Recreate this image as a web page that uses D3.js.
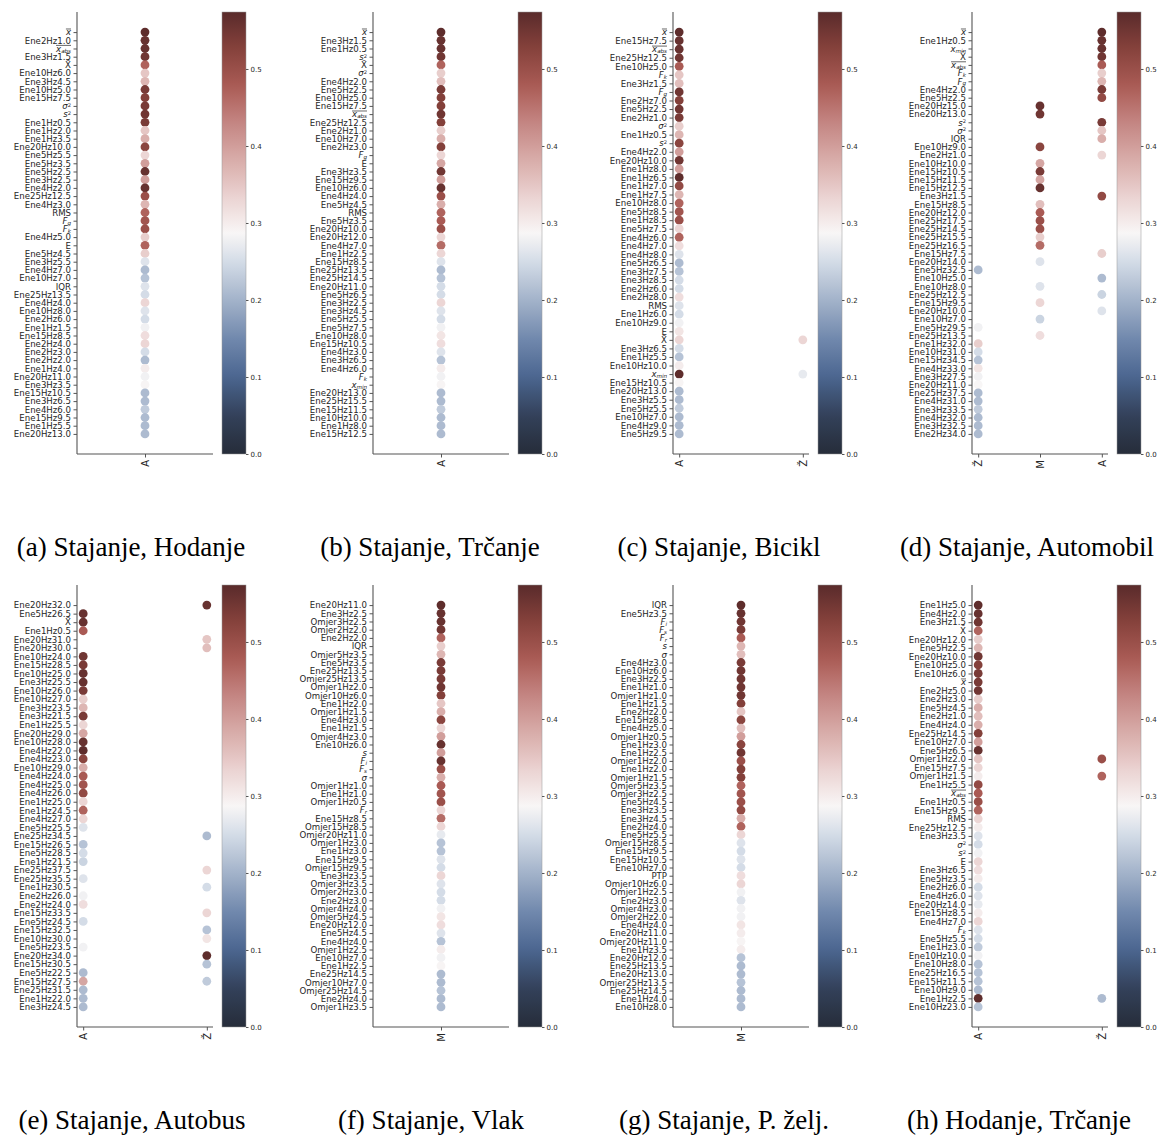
<!DOCTYPE html>
<html>
<head>
<meta charset="utf-8">
<title>Stajanje - znacajke</title>
<script src="https://cdn.jsdelivr.net/npm/d3@7"></script>
<style>
  body { margin: 0; background: #fff; }
  #chart text { font-family: "DejaVu Sans", sans-serif; }
  #chart .caption { font-family: "Liberation Serif", "DejaVu Serif", serif; }
</style>
</head>
<body>
<svg id="chart" width="1169" height="1137"></svg>
<script>
// ---- data ----
// (a) Stajanje, Hodanje
var labA = ["x̄","Ene2Hz1.0","x̄abs","Ene3Hz1.5","X̃","Ene10Hz6.0","Ene3Hz4.5","Ene10Hz5.0","Ene15Hz7.5","σ²","s²","Ene1Hz0.5","Ene1Hz2.0","Ene1Hz3.5","Ene20Hz10.0","Ene5Hz5.5","Ene5Hz3.5","Ene5Hz2.5","Ene3Hz2.5","Ene4Hz2.0","Ene25Hz12.5","Ene4Hz3.0","RMS","Fg","Fk","Ene4Hz5.0","E","Ene5Hz4.5","Ene3Hz5.5","Ene4Hz7.0","Ene10Hz7.0","IQR","Ene25Hz13.5","Ene4Hz4.0","Ene10Hz8.0","Ene2Hz6.0","Ene1Hz1.5","Ene15Hz8.5","Ene2Hz4.0","Ene2Hz3.0","Ene2Hz2.0","Ene1Hz4.0","Ene20Hz11.0","Ene3Hz3.5","Ene15Hz10.5","Ene3Hz6.5","Ene4Hz6.0","Ene15Hz9.5","Ene1Hz5.5","Ene20Hz13.0"];
var valA = [0.57,0.56,0.56,0.55,0.47,0.35,0.37,0.54,0.53,0.54,0.55,0.54,0.35,0.38,0.52,0.33,0.40,0.56,0.40,0.56,0.50,0.37,0.47,0.49,0.50,0.34,0.47,0.34,0.26,0.21,0.22,0.26,0.25,0.33,0.26,0.25,0.28,0.32,0.33,0.25,0.21,0.30,0.28,0.29,0.21,0.21,0.23,0.21,0.21,0.21];

// (b) Stajanje, Trčanje
var labB = ["x̄","Ene3Hz1.5","Ene1Hz0.5","s²","X̃","σ²","Ene4Hz2.0","Ene5Hz2.5","Ene10Hz5.0","Ene15Hz7.5","x̄abs","Ene25Hz12.5","Ene2Hz1.0","Ene10Hz7.0","Ene2Hz3.0","Fg","E","Ene3Hz3.5","Ene15Hz9.5","Ene10Hz6.0","Ene4Hz4.0","Ene5Hz4.5","RMS","Ene5Hz3.5","Ene20Hz10.0","Ene20Hz12.0","Ene4Hz7.0","Ene1Hz2.5","Ene15Hz8.5","Ene25Hz13.5","Ene25Hz14.5","Ene20Hz11.0","Ene5Hz6.5","Ene3Hz2.5","Ene3Hz4.5","Ene5Hz5.5","Ene5Hz7.5","Ene10Hz8.0","Ene15Hz10.5","Ene4Hz3.0","Ene3Hz6.5","Ene4Hz6.0","Fk","xmin","Ene20Hz13.0","Ene25Hz15.5","Ene15Hz11.5","Ene10Hz10.0","Ene1Hz8.0","Ene15Hz12.5"];
var valB = [0.57,0.56,0.56,0.55,0.47,0.34,0.36,0.54,0.53,0.53,0.55,0.53,0.34,0.38,0.53,0.33,0.39,0.55,0.40,0.56,0.50,0.38,0.47,0.48,0.50,0.33,0.46,0.33,0.26,0.21,0.22,0.25,0.25,0.33,0.26,0.25,0.28,0.31,0.32,0.26,0.22,0.30,0.28,0.29,0.21,0.21,0.23,0.21,0.21,0.21];

// (c) Stajanje, Bicikl
var labC = ["x̄","Ene15Hz7.5","x̄abs","Ene25Hz12.5","Ene10Hz5.0","Fk","Ene3Hz1.5","Fg","Ene2Hz7.0","Ene5Hz2.5","Ene2Hz1.0","σ²","Ene1Hz0.5","s²","Ene4Hz2.0","Ene20Hz10.0","Ene1Hz8.0","Ene1Hz6.5","Ene1Hz7.0","Ene1Hz7.5","Ene10Hz8.0","Ene5Hz8.5","Ene1Hz8.5","Ene5Hz7.5","Ene4Hz6.0","Ene4Hz7.0","Ene4Hz8.0","Ene5Hz6.5","Ene3Hz7.5","Ene3Hz8.5","Ene2Hz6.0","Ene2Hz8.0","RMS","Ene1Hz6.0","Ene10Hz9.0","E","X̃","Ene3Hz6.5","Ene1Hz5.5","Ene10Hz10.0","xmin","Ene15Hz10.5","Ene20Hz13.0","Ene3Hz5.5","Ene5Hz5.5","Ene10Hz7.0","Ene4Hz9.0","Ene5Hz9.5"];
var valC = [0.57,0.56,0.56,0.55,0.48,0.35,0.36,0.55,0.53,0.55,0.54,0.34,0.37,0.52,0.40,0.55,0.40,0.57,0.51,0.37,0.47,0.49,0.50,0.33,0.47,0.32,0.26,0.21,0.22,0.25,0.25,0.32,0.26,0.25,0.28,0.31,0.33,0.25,0.22,0.30,0.57,0.29,0.21,0.21,0.23,0.21,0.21,0.21];
var extraC = [["X̃","Ž",0.33],["xmin","Ž",0.27]];

// (d) Stajanje, Automobil
var labD = ["x̄","Ene1Hz0.5","xmin","X̃","x̄abs","Fk","Fg","Ene4Hz2.0","Ene5Hz2.5","Ene20Hz15.0","Ene20Hz13.0","s²","σ²","IQR","Ene10Hz9.0","Ene2Hz1.0","Ene10Hz10.0","Ene15Hz10.5","Ene15Hz11.5","Ene15Hz12.5","Ene3Hz1.5","Ene15Hz8.5","Ene20Hz12.0","Ene25Hz17.5","Ene25Hz14.5","Ene25Hz15.5","Ene25Hz16.5","Ene15Hz7.5","Ene20Hz14.0","Ene5Hz32.5","Ene10Hz5.0","Ene10Hz8.0","Ene25Hz12.5","Ene15Hz9.5","Ene20Hz10.0","Ene10Hz7.0","Ene5Hz29.5","Ene25Hz13.5","Ene1Hz32.0","Ene10Hz31.0","Ene15Hz34.5","Ene4Hz33.0","Ene3Hz27.5","Ene20Hz11.0","Ene25Hz37.5","Ene4Hz31.0","Ene3Hz33.5","Ene4Hz32.0","Ene3Hz32.5","Ene2Hz34.0"];
var catD = ["A","A","A","A","A","A","A","A","A","M","M","A","A","A","M","A","M","M","M","M","A","M","M","M","M","M","M","A","M","Ž","A","M","A","M","A","M","Ž","M","Ž","Ž","Ž","Ž","Ž","Ž","Ž","Ž","Ž","Ž","Ž","Ž"];
var valD = [0.57,0.56,0.56,0.55,0.48,0.34,0.37,0.54,0.51,0.56,0.55,0.54,0.35,0.38,0.52,0.33,0.39,0.54,0.39,0.56,0.51,0.36,0.48,0.50,0.50,0.34,0.46,0.34,0.26,0.21,0.21,0.26,0.24,0.33,0.26,0.24,0.28,0.32,0.34,0.25,0.22,0.31,0.28,0.287,0.21,0.21,0.23,0.21,0.21,0.21];

// (e) Stajanje, Autobus
var labE = ["Ene20Hz32.0","Ene5Hz26.5","X̃","Ene1Hz0.5","Ene20Hz31.0","Ene20Hz30.0","Ene10Hz24.0","Ene15Hz28.5","Ene10Hz25.0","Ene3Hz25.5","Ene10Hz26.0","Ene10Hz27.0","Ene3Hz23.5","Ene3Hz21.5","Ene1Hz25.5","Ene20Hz29.0","Ene10Hz28.0","Ene4Hz22.0","Ene4Hz23.0","Ene10Hz29.0","Ene4Hz24.0","Ene4Hz25.0","Ene4Hz26.0","Ene1Hz25.0","Ene1Hz24.5","Ene4Hz27.0","Ene5Hz25.5","Ene25Hz34.5","Ene15Hz26.5","Ene5Hz28.5","Ene1Hz21.5","Ene25Hz37.5","Ene25Hz35.5","Ene1Hz30.5","Ene2Hz26.0","Ene2Hz24.0","Ene15Hz33.5","Ene5Hz24.5","Ene15Hz32.5","Ene10Hz30.0","Ene5Hz23.5","Ene20Hz34.0","Ene15Hz30.5","Ene5Hz22.5","Ene15Hz27.5","Ene25Hz31.5","Ene1Hz22.0","Ene3Hz24.5"];
var catE = ["Ž","A","A","A","Ž","Ž","A","A","A","A","A","A","A","A","A","A","A","A","A","A","A","A","A","A","A","A","A","Ž","A","A","A","Ž","A","Ž","A","A","Ž","A","Ž","Ž","A","Ž","Ž","A","A","A","A","A"];
var valE = [0.56,0.56,0.56,0.48,0.35,0.36,0.55,0.54,0.56,0.56,0.54,0.34,0.37,0.54,0.33,0.39,0.56,0.57,0.52,0.38,0.48,0.49,0.51,0.33,0.47,0.33,0.26,0.21,0.22,0.25,0.24,0.33,0.26,0.25,0.28,0.32,0.33,0.25,0.22,0.31,0.28,0.57,0.22,0.21,0.39,0.21,0.21,0.21];
var extraE = [["Ene15Hz27.5","Ž",0.23]];

// (f) Stajanje, Vlak
var labF = ["Ene20Hz11.0","Ene3Hz2.5","Omjer3Hz2.5","Omjer2Hz2.0","Ene2Hz2.0","IQR","Omjer5Hz3.5","Ene5Hz3.5","Ene25Hz13.5","Omjer25Hz13.5","Omjer1Hz2.0","Omjer10Hz6.0","Ene1Hz2.0","Omjer1Hz1.5","Ene4Hz3.0","Ene1Hz1.5","Omjer4Hz3.0","Ene10Hz6.0","s","Fi","Fs","σ","Omjer1Hz1.0","Ene1Hz1.0","Omjer1Hz0.5","Fr","Ene15Hz8.5","Omjer15Hz8.5","Omjer20Hz11.0","Omjer1Hz3.0","Ene1Hz3.0","Ene15Hz9.5","Omjer15Hz9.5","Ene3Hz3.5","Omjer3Hz3.5","Omjer2Hz3.0","Ene2Hz3.0","Omjer4Hz4.0","Omjer5Hz4.5","Ene20Hz12.0","Ene5Hz4.5","Ene4Hz4.0","Omjer1Hz2.5","Ene10Hz7.0","Ene1Hz2.5","Ene25Hz14.5","Omjer10Hz7.0","Omjer25Hz14.5","Ene2Hz4.0","Omjer1Hz3.5"];
var valF = [0.57,0.56,0.56,0.55,0.47,0.34,0.37,0.54,0.54,0.54,0.55,0.53,0.35,0.38,0.52,0.33,0.40,0.56,0.40,0.56,0.50,0.38,0.48,0.49,0.50,0.33,0.46,0.33,0.27,0.22,0.22,0.26,0.25,0.33,0.26,0.25,0.25,0.28,0.31,0.32,0.26,0.22,0.30,0.28,0.29,0.21,0.21,0.22,0.21,0.21];

// (g) Stajanje, P. želj.
var labG = ["IQR","Ene5Hz3.5","Fi","Fs","Fr","s","σ","Ene4Hz3.0","Ene10Hz6.0","Ene3Hz2.5","Ene1Hz1.0","Omjer1Hz1.0","Ene1Hz1.5","Ene2Hz2.0","Ene15Hz8.5","Ene4Hz5.0","Omjer1Hz0.5","Ene1Hz3.0","Ene1Hz2.5","Omjer1Hz2.0","Ene1Hz2.0","Omjer1Hz1.5","Omjer5Hz3.5","Omjer3Hz2.5","Ene5Hz4.5","Ene3Hz3.5","Ene3Hz4.5","Ene2Hz4.0","Ene5Hz5.5","Omjer15Hz8.5","Ene15Hz9.5","Ene15Hz10.5","Ene10Hz7.0","PTP","Omjer10Hz6.0","Omjer1Hz2.5","Ene2Hz3.0","Omjer4Hz3.0","Omjer2Hz2.0","Ene4Hz4.0","Ene20Hz11.0","Omjer20Hz11.0","Ene1Hz3.5","Ene20Hz12.0","Ene25Hz13.5","Ene20Hz13.0","Omjer25Hz13.5","Ene25Hz14.5","Ene1Hz4.0","Ene10Hz8.0"];
var valG = [0.57,0.56,0.55,0.54,0.48,0.37,0.36,0.54,0.55,0.55,0.55,0.55,0.53,0.35,0.52,0.36,0.40,0.52,0.55,0.50,0.53,0.53,0.47,0.49,0.50,0.51,0.38,0.47,0.33,0.26,0.25,0.26,0.25,0.32,0.33,0.28,0.26,0.28,0.28,0.31,0.30,0.29,0.30,0.22,0.21,0.21,0.22,0.21,0.21,0.21];

// (h) Hodanje, Trčanje
var labH = ["Ene1Hz5.0","Ene4Hz2.0","Ene3Hz1.5","X̃","Ene20Hz12.0","Ene5Hz2.5","Ene20Hz10.0","Ene10Hz5.0","Ene10Hz6.0","x̄","Ene2Hz5.0","Ene2Hz3.0","Ene5Hz4.5","Ene2Hz1.0","Ene4Hz4.0","Ene25Hz14.5","Ene10Hz7.0","Ene5Hz6.5","Omjer1Hz2.0","Ene15Hz7.5","Omjer1Hz1.5","Ene1Hz5.5","x̄abs","Ene1Hz0.5","Ene15Hz9.5","RMS","Ene25Hz12.5","Ene3Hz3.5","σ²","s²","E","Ene3Hz6.5","Ene5Hz3.5","Ene2Hz6.0","Ene4Hz6.0","Ene20Hz14.0","Ene15Hz8.5","Ene4Hz7.0","Fk","Ene5Hz5.5","Ene1Hz3.0","Ene10Hz10.0","Ene10Hz8.0","Ene25Hz16.5","Ene15Hz11.5","Ene10Hz9.0","Ene1Hz2.5","Ene10Hz23.0"];
var valH = [0.57,0.56,0.55,0.47,0.34,0.37,0.55,0.53,0.54,0.54,0.55,0.34,0.38,0.36,0.38,0.53,0.40,0.56,0.35,0.33,0.30,0.51,0.48,0.50,0.47,0.33,0.30,0.26,0.25,0.28,0.33,0.32,0.30,0.25,0.26,0.27,0.30,0.33,0.26,0.25,0.23,0.28,0.22,0.22,0.22,0.21,0.57,0.22];
var extraH = [["Omjer1Hz2.0","Ž",0.50],["Omjer1Hz1.5","Ž",0.47],["Ene1Hz2.5","Ž",0.21]];

var cbTicks = [0.0, 0.1, 0.2, 0.3, 0.4, 0.5];
var cmax = 0.574;

var panels = [
  {cap: "(a) Stajanje, Hodanje", labels: labA, vals: valA, cats: ["A"]},
  {cap: "(b) Stajanje, Trčanje", labels: labB, vals: valB, cats: ["A"]},
  {cap: "(c) Stajanje, Bicikl", labels: labC, vals: valC, cats: ["A", "Ž"], extra: extraC},
  {cap: "(d) Stajanje, Automobil", labels: labD, vals: valD, cats: ["Ž", "M", "A"], rowCat: catD},
  {cap: "(e) Stajanje, Autobus", labels: labE, vals: valE, cats: ["A", "Ž"], rowCat: catE, extra: extraE},
  {cap: "(f) Stajanje, Vlak", labels: labF, vals: valF, cats: ["M"]},
  {cap: "(g) Stajanje, P. želj.", labels: labG, vals: valG, cats: ["M"]},
  {cap: "(h) Hodanje, Trčanje", labels: labH, vals: valH, cats: ["A", "Ž"], extra: extraH}
];

// diverging colormap, dark blue - white - dark red
var color = d3.scaleLinear()
  .domain([0, 0.05, 0.10, 0.15, 0.20, 0.25, 0.287, 0.33, 0.38, 0.43, 0.48, 0.53, cmax])
  .range(["#262d3a","#33415a","#4b6690","#7189ad","#a3b3ca","#d4dce7","#f8f6f6","#ecd6d5","#d9aeab","#c48683","#a95a54","#83403a","#5a2b2b"])
  .interpolate(d3.interpolateLab)
  .clamp(true);

// math-ish tick labels
var mathLabels = {
  "x̄": {parts: [["x", "i"]], bar: true},
  "x̄abs": {parts: [["x", "i"], ["abs", "sub"]], bar: true},
  "xmin": {parts: [["x", "i"], ["min", "sub"]]},
  "σ²": {parts: [["σ", "i"], ["2", "sup"]]},
  "s²": {parts: [["s", "i"], ["2", "sup"]]},
  "σ": {parts: [["σ", "i"]]},
  "s": {parts: [["s", "i"]]},
  "Fg": {parts: [["F", "i"], ["g", "sub"]]},
  "Fk": {parts: [["F", "i"], ["k", "sub"]]},
  "Fi": {parts: [["F", "i"], ["i", "sub"]]},
  "Fs": {parts: [["F", "i"], ["s", "sub"]]},
  "Fr": {parts: [["F", "i"], ["r", "sub"]]}
};

function setLabel(tick, lab) {
  var t = tick.select("text").text(null);
  var m = mathLabels[lab];
  if (!m) { t.text(lab); return; }
  m.parts.forEach(function (p) {
    var ts = t.append("tspan").text(p[0]);
    if (p[1] == "i") ts.style("font-style", "italic");
    if (p[1] == "sub") ts.style("font-style", "italic").attr("font-size", "0.65em").attr("dy", "0.15em");
    if (p[1] == "sup") ts.attr("font-size", "0.6em").attr("dy", "-0.45em");
  });
  if (m.bar) {
    var len = t.node().getComputedTextLength();
    tick.append("line")
      .attr("x1", -6 - len).attr("x2", -6)
      .attr("y1", -3.6).attr("y2", -3.6)
      .attr("stroke", "#262626").attr("stroke-width", 0.7);
  }
}

var svg = d3.select("#chart");
var defs = svg.append("defs");
var grad = defs.append("linearGradient").attr("id", "cbgrad")
  .attr("x1", 0).attr("y1", 1).attr("x2", 0).attr("y2", 0);
d3.range(0, 1.0001, 0.02).forEach(function (f) {
  grad.append("stop").attr("offset", f).attr("stop-color", color(f * cmax));
});

var lefts = [77, 373, 673, 972];
var tops = [12, 585];
var axW = 136, axH = 442;
var capX = [[131, 430, 719, 1027], [132, 431, 724, 1019]];
var capY = [556, 1129];

panels.forEach(function (p, i) {
  var col = i % 4, row = Math.floor(i / 4);
  var x0 = lefts[col], y0 = tops[row];
  var g = svg.append("g");
  var n = p.labels.length;

  var y = d3.scalePoint().domain(p.labels).range([y0, y0 + axH]).padding(0.05 * (n - 1));
  var nc = p.cats.length;
  var x = d3.scalePoint().domain(p.cats).range([x0, x0 + axW])
    .padding(nc == 1 ? 0.5 : 0.05 * (nc - 1));

  // points
  var pts = p.labels.map(function (l, k) {
    return {lab: l, cat: p.rowCat ? p.rowCat[k] : p.cats[0], v: p.vals[k]};
  });
  (p.extra || []).forEach(function (e) { pts.push({lab: e[0], cat: e[1], v: e[2]}); });

  g.selectAll("circle").data(pts).enter().append("circle")
    .attr("cx", function (d) { return x(d.cat); })
    .attr("cy", function (d) { return y(d.lab); })
    .attr("r", 4.4)
    .attr("fill", function (d) { return color(d.v); });

  // y axis
  var ya = g.append("g").attr("transform", "translate(" + x0 + ",0)")
    .call(d3.axisLeft(y).tickSize(3.5).tickPadding(2.5));
  ya.select(".domain").remove();
  ya.selectAll(".tick line").attr("stroke", "#555");
  ya.selectAll(".tick text").attr("font-size", 8.6).attr("fill", "#262626");
  ya.selectAll(".tick").each(function (d) { setLabel(d3.select(this), d); });

  // x axis
  var xa = g.append("g").attr("transform", "translate(0," + (y0 + axH) + ")")
    .call(d3.axisBottom(x).tickSize(3.5).tickPadding(2));
  xa.select(".domain").remove();
  xa.selectAll(".tick line").attr("stroke", "#555");
  xa.selectAll(".tick text")
    .attr("font-size", 10).attr("fill", "#262626")
    .attr("transform", "rotate(-90)")
    .attr("text-anchor", "end")
    .attr("x", -6).attr("y", 0).attr("dy", "0.35em");

  // spines
  g.append("line").attr("x1", x0).attr("x2", x0).attr("y1", y0).attr("y2", y0 + axH)
    .attr("stroke", "#555").attr("stroke-width", 1.1);
  g.append("line").attr("x1", x0).attr("x2", x0 + axW).attr("y1", y0 + axH).attr("y2", y0 + axH)
    .attr("stroke", "#555").attr("stroke-width", 1.1);

  // colorbar
  var cbx = x0 + 145, cbw = 24;
  g.append("rect").attr("x", cbx).attr("y", y0).attr("width", cbw).attr("height", axH)
    .attr("fill", "url(#cbgrad)").attr("stroke", "#999").attr("stroke-width", 0.5);
  var cy = d3.scaleLinear().domain([0, cmax]).range([y0 + axH, y0]);
  var ca = g.append("g").attr("transform", "translate(" + (cbx + cbw) + ",0)")
    .call(d3.axisRight(cy).tickValues(cbTicks).tickFormat(d3.format(".1f")).tickSize(2.5).tickPadding(2));
  ca.select(".domain").remove();
  ca.selectAll(".tick line").attr("stroke", "#555");
  ca.selectAll(".tick text").attr("font-size", 7).attr("fill", "#262626");

  // caption
  svg.append("text").attr("class", "caption")
    .attr("x", capX[row][col]).attr("y", capY[row])
    .attr("text-anchor", "middle")
    .attr("font-size", 27).attr("fill", "#000")
    .text(p.cap);
});
</script>
</body>
</html>
